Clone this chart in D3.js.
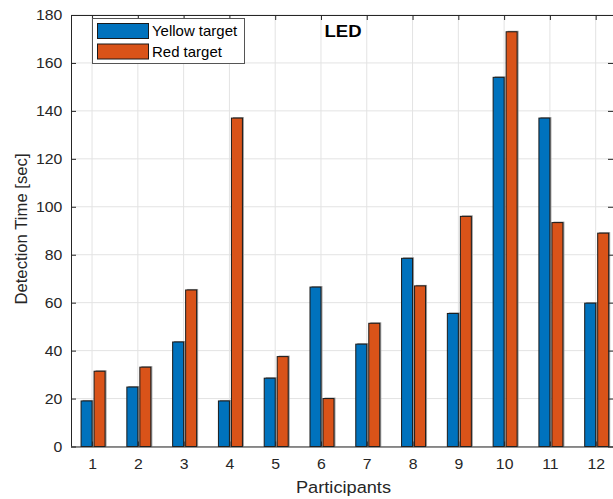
<!DOCTYPE html>
<html><head><meta charset="utf-8">
<script src="https://cdn.jsdelivr.net/npm/d3@7/dist/d3.min.js"></script>
<style>body{margin:0;background:#fff}svg{display:block}text{font-family:"Liberation Sans",Arial,sans-serif}</style>
</head><body><svg id="c" width="613" height="499"></svg>
<script>
const participants = [1,2,3,4,5,6,7,8,9,10,11,12];
const yellowTarget = [19.0,24.8,43.6,19.0,28.5,66.5,42.7,78.5,55.5,154,137,59.8];
const redTarget = [31.4,33.1,65.3,137,37.5,20.0,51.4,67.0,96.0,173,93.4,89.0];
const yTicks = [0,20,40,60,80,100,120,140,160,180];
const seriesNames = ["Yellow target","Red target"];
const colors = ["#0072BD","#D95319"];

const svg = d3.select("#c");
const L=71, R=614, T=15, B=446.5;
const SX = 1.09; // horizontal glyph stretch seen in the reference
const x = d3.scaleLinear().domain([0.54,12.4]).range([L,R]);
const y = d3.scaleLinear().domain([0,180]).range([B,T]);

// grid
const g = svg.append("g");
g.selectAll(".gx").data(participants).join("line")
  .attr("x1",d=>x(d)).attr("x2",d=>x(d)).attr("y1",T).attr("y2",B)
  .attr("stroke","#e3e3e3").attr("stroke-width",1);
g.selectAll(".gy").data(yTicks).join("line")
  .attr("x1",L).attr("x2",R).attr("y1",d=>y(d)).attr("y2",d=>y(d))
  .attr("stroke","#e3e3e3").attr("stroke-width",1);

// bars
const off = [[-0.24,0],[0.044,0.284]];
[yellowTarget, redTarget].forEach((vals,si)=>{
  const bg = svg.append("g");
  bg.selectAll("rect.sh").data(vals).join("rect")
    .attr("x",(d,i)=>x(participants[i]+off[si][0])+1.5)
    .attr("y",d=>y(d)-1)
    .attr("width",(d,i)=>x(participants[i]+off[si][1])-x(participants[i]+off[si][0]))
    .attr("height",d=>B-y(d)+1)
    .attr("fill","#9a9a9a");
  bg.selectAll("rect.b").data(vals).join("rect")
    .attr("x",(d,i)=>x(participants[i]+off[si][0]))
    .attr("y",d=>y(d))
    .attr("width",(d,i)=>x(participants[i]+off[si][1])-x(participants[i]+off[si][0]))
    .attr("height",d=>B-y(d))
    .attr("fill",colors[si]).attr("stroke","#1a1a1a").attr("stroke-width",1);
});

// axes
const tl = 5;
const axB = svg.append("g").attr("transform",`translate(0,${B})`)
  .call(d3.axisBottom(x).tickValues(participants).tickSizeInner(-tl).tickSizeOuter(0).tickPadding(12).tickFormat(d3.format("d")));
const axT = svg.append("g").attr("transform",`translate(0,${T})`)
  .call(d3.axisTop(x).tickValues(participants).tickSizeInner(-tl).tickSizeOuter(0).tickFormat(""));
const axL = svg.append("g").attr("transform",`translate(${L},0)`)
  .call(d3.axisLeft(y).tickValues(yTicks).tickSizeInner(-tl).tickSizeOuter(0).tickPadding(8));
const axR = svg.append("g").attr("transform",`translate(${R-1},0)`)
  .call(d3.axisRight(y).tickValues(yTicks).tickSizeInner(-tl).tickSizeOuter(0).tickFormat(""));
[axB,axT,axL,axR].forEach(a=>{
  a.selectAll("path").attr("stroke","#262626");
  a.selectAll("line").attr("stroke","#262626");
  a.selectAll("text").attr("font-size",14.5).attr("fill","#262626")
    .attr("font-family","'Liberation Sans',Arial,sans-serif").attr("transform",`scale(${SX},1)`);
});
axB.select("path").attr("d",`M${L},0.5H${R}`);
axT.select("path").attr("d",`M${L},0.5H${R}`);
axL.select("path").attr("d",`M0.5,${B}V${T}`);

// labels
svg.append("text").attr("transform",`translate(343.5,493) scale(${SX},1)`).attr("text-anchor","middle")
  .attr("font-size",16.7).attr("fill","#262626").text("Participants");
svg.append("text").attr("transform",`translate(26.5,229) rotate(-90)`).attr("text-anchor","middle")
  .attr("font-size",16.7).attr("fill","#262626").text("Detection Time [sec]");
svg.append("text").attr("transform",`translate(343,37) scale(${SX},1)`).attr("text-anchor","middle")
  .attr("font-size",17).attr("font-weight","bold").attr("fill","#000").text("LED");

// legend
const lg = svg.append("g");
lg.append("rect").attr("x",92.5).attr("y",18.5).attr("width",152).attr("height",45)
  .attr("fill","#fff").attr("stroke","#555").attr("stroke-width",1);
seriesNames.forEach((n,i)=>{
  lg.append("rect").attr("x",97.5).attr("y",23.5+i*20.5).attr("width",51).attr("height",15)
    .attr("fill",colors[i]).attr("stroke","#1a1a1a");
  lg.append("text").attr("transform",`translate(152,${36+i*20.5}) scale(1.07,1)`)
    .attr("font-size",14).attr("fill","#000").text(n);
});
</script></body></html>
